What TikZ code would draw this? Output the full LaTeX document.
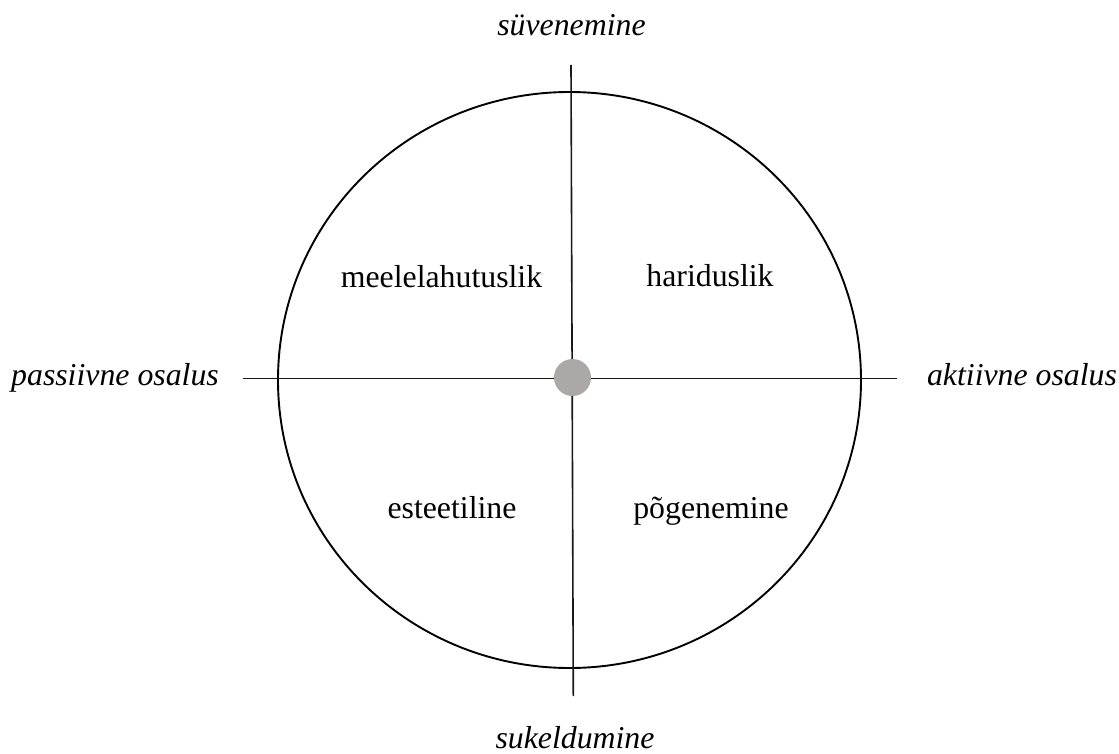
\documentclass[tikz,border=0pt]{standalone}
\usepackage{fontspec}
\setmainfont{Liberation Serif}
\definecolor{dotgray}{RGB}{172,168,168}
\begin{document}
\begin{tikzpicture}[x=1pt,y=-1pt,
  lbl/.style={anchor=base,inner sep=0pt,font=\fontsize{31.8}{36}\selectfont},
  axlbl/.style={lbl,font=\fontsize{31.8}{36}\selectfont\itshape},
  axis/.style={line width=1.6pt,black!90},
  ring/.style={line width=1.9pt}]
\useasboundingbox (0,0) rectangle (1119,754);
\draw[ring] (569.5,380) ellipse [x radius=291.5, y radius=288];
\coordinate (vt) at (571,65);
\coordinate (vb) at (573.3,696);
\coordinate (hl) at (243,378.5);
\coordinate (hr) at (897,378.5);
\draw[axis] (vt) -- (vb);
\draw[axis] (hl) -- (hr);
\node[circle,fill=dotgray,minimum size=37pt,inner sep=0pt] (dot) at (572.5,377.5) {};
\node[axlbl] (top) at (571.5,36) {süvenemine};
\node[axlbl] (bot) at (575,748) {sukeldumine};
\node[axlbl] (left) at (115,385) {passiivne osalus};
\node[axlbl] (right) at (1022,385) {aktiivne osalus};
\node[lbl] (q1) at (441.5,287) {meelelahutuslik};
\node[lbl] (q2) at (710,286) {hariduslik};
\node[lbl] (q3) at (452,518) {esteetiline};
\node[lbl] (q4) at (711,518) {põgenemine};
\end{tikzpicture}
\end{document}
